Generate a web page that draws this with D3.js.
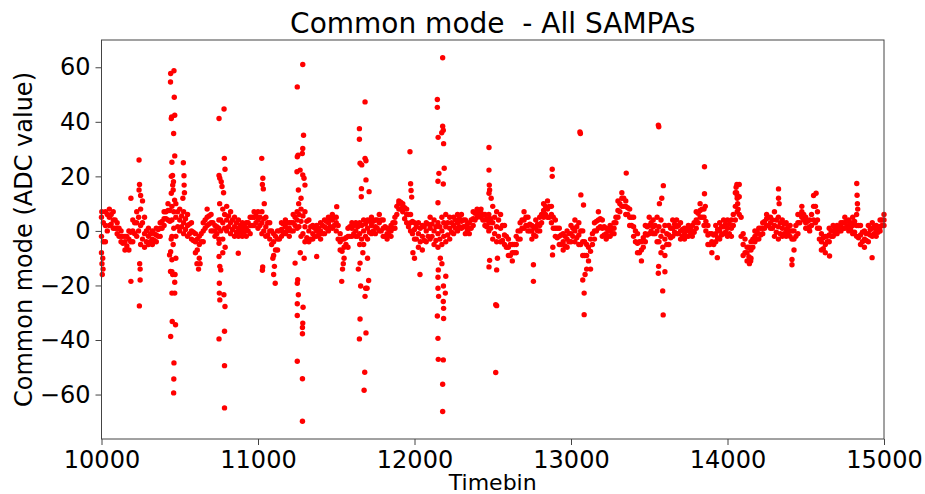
<!DOCTYPE html>
<html>
<head>
<meta charset="utf-8">
<script src="https://cdn.jsdelivr.net/npm/d3@7"></script>
<style>
  body { margin: 0; background: #fff; }
  text { font-family: "DejaVu Sans", sans-serif; }
</style>
</head>
<body>
<svg id="chart" width="925" height="494"></svg>
<script>
// common mode band, read every 25 timebins (10000 .. 15000)
var bandStart = 10000, bandStep = 25;
var cmMid = [-2,2,5,4,1,-2,-4,-3,0,3,2,-1,-2,-3,-1.5,1,4.5,7.5,4,5,4,3,2,0,-4,-5,0,5,3,0,1,3,4,3,1.5,1,0.5,1,2,5,4,
  3,1.5,0,-4,-3,0.5,1.5,1,3,4,3.5,1.5,0,-1,0,0,1.5,3,4,3,-4,-6,-2,1,0,-1,0,1,2,1.5,3,1,-1,0,3,10,9,6,3,0.5,
  -1,-2,0,1,0,-1,0,1.5,1,2,3,3.5,1.5,1,4.5,7,6.5,4,3,3,1.5,1,-1.5,-6,-8,-5,0,4,2,0,1,2,7.5,8,6,1,-2,-4,-3,-1,
  0,-1.5,-4,-9,-7.5,0,4,1,-1,0,1,7.5,12,9,5,1.5,-4.5,-7,-1,2,1.5,0,-2,-3,-1.5,1,1.5,0,-1,0,0,4,7.5,5,-1.5,-4,-1,0,1.5,1,
  1,9,12.5,-5,-8,-7,-2,-1,1,4.5,3,2,1.5,1,0.5,0,-3,3,7,3,1.5,9,4,-4,-5,-1.5,0,0.5,1.5,3,2,2,2,-1.5,-3,-1,1,0,1.5,4];
var cmHigh = [5,7,8,7,3,0,-2,0,4,7,8,5,1,0,1,3,7,10,9,10,8,7,6,3,-1,-2,3,8,6,2,4,8,9,7,5,4,3,3,5,7,7,
  7,5,3,-1,0,3,4,3,6,7,8,7,4,2,2,3,4,5,6,5,-1,-3,1,3,3,3,4,4,5,4,6,4,1,2,5,11,10,8,6,3,
  3,2,3,5,4,3,5,6,5,5,6,6,4,3,7,8,8,6,6,9,7,6,2,-3,-5,-2,3,7,5,2,4,5,10,11,9,4,1,-1,0,2,
  4,3,0,-5,-3,3,7,4,1,2,3,11,14,11,8,5,-1,-4,2,5,4,5,4,2,2,4,4,3,1,2,2,7,10,8,2,-1,2,3,4,4,
  4,14,17,-1,-6,-4,0,1,3,6,5,7,5,4,3,2,0,6,9,5,4,13,7,-1,-2,1,2,2,3,5,4,5,6,2,0,2,3,2,4,6];
var cmLow = [-8,-4,2,1,-1,-4,-7,-7,-4,-2,-5,-6,-5,-5,-4,-2,2,4,-2,-2,0,-1,-2,-3,-8,-10,-4,2,0,-2,-3,-3,0,-1,-2,-2,-2,-2,-1,2,1,
  -1,-2,-3,-9,-7,-2,-1,-2,0,1,-2,-4,-4,-3,-2,-3,-1,0,1,0,-7,-10,-6,-2,-2,-5,-5,-3,-1,-1,0,-2,-3,-2,1,8,7,3,0,-3,
  -6,-7,-4,-3,-5,-6,-5,-4,-3,-1,0,1,-1,-1,2,5,5,2,0,-3,-4,-4,-5,-9,-11,-8,-3,1,0,-3,-2,0,5,5,3,-2,-5,-7,-6,-4,
  -4,-5,-9,-14,-14,-3,1,-2,-3,-2,-1,5,9,6,2,-2,-8,-11,-4,-1,-1,-4,-8,-9,-5,-2,-1,-3,-3,-2,-2,1,5,2,-5,-8,-4,-3,-1,-2,
  -2,4,6,-9,-11,-10,-4,-3,-1,2,1,-2,-3,-2,-2,-2,-7,-1,5,1,0,4,1,-7,-8,-4,-2,-1,0,1,0,-1,-2,-5,-6,-4,-2,-2,0,2];

// band read half a step later (timebin + 12): upper and lower part
var halfOffset = 12;
var cmUpper = [3,6,6,4,1,-2,-2,-0.5,3,5,3,0,-1,-1,0.5,3.5,7,7.5,7,7,5.5,4.5,2.5,-0.5,-3,-1,4,5.5,3,1.5,4,6,5.5,4,3,2,2,3,5,5.5,5,
  4.5,3,0,-2,0,2.5,3,3,5,6,5.5,3.5,1.5,1,1,2,3.5,4.5,5,2,-3,-2.5,1.5,2,1.5,2,2.5,3.5,3.5,4,4,1.5,0.5,3,9,10.5,8.5,6,3.5,1.5,
  1,1.5,2.5,2.5,1.5,1.5,3,3,3,4,4.5,4,2.5,4,6.5,7.5,6,4.5,4.5,5,4,2,-2,-5,-5,0,4,5,2.5,1.5,2.5,6,9,9,5,1,-1.5,-2,-1,1,
  1.5,0,-4,-6,-1,3.5,4.5,1.5,0.5,1,5,10,12,8.5,5,0,-4,-2.5,1.5,3,2,1.5,0,-1,1,2.5,2,0.5,0.5,1,3,6.5,8,3.5,-1,-1.5,0.5,1.5,2.5,2.5,
  6,13,5,-3,-6,-3,-0.5,1,3.5,5,4,4,3,2.5,1.5,0,2,6,6,3.5,6,9,1,-2.5,-2,0,1,1.5,3,3.5,3,3.5,2,-0.5,-1,0.5,1.5,1.5,4];
var cmLower = [-4,0,2.5,1,-2,-4.5,-5.5,-4,-1,0,-3,-4,-4,-3.5,-2,1,4.5,3.5,1,1.5,1.5,0.5,-1,-3.5,-7,-4,1,2.5,0,-1,0,1,1.5,0.5,-0.5,-0.5,-0.5,0,2,3,2,
  0,-1.5,-5,-7,-3,-0.5,0,0,2,1.5,-1,-2.5,-3,-2,-1.5,-1,1,1.5,2,-3,-7.5,-5,-2,-1,-2,-3,-2,-0.5,0,1,0,-2,-1.5,1,6,8,4.5,1.5,-1,-3,
  -4,-3.5,-2,-2,-3.5,-3,-2,-1.5,-0.5,1,1.5,1.5,0,1,4,5.5,4,1.5,1,-1,-2,-3.5,-6,-9,-8,-3,1,2,0,-1.5,0,3,6,5,1,-2.5,-5,-5.5,-4,-2,
  -2.5,-5,-9,-11,-5,0,1.5,-1.5,-2,-1,3,7,9,6,2,-4,-8,-6,-1.5,0,-1,-4,-6,-5,-2.5,-0.5,-1,-2,-2,-1.5,-0.5,3,5,0,-5,-5,-2.5,-1.5,-0.5,-1,
  2,7,-2,-8,-9.5,-6,-3,-1.5,1,2,1,-0.5,-1,-1,-1,-3,-2,3,4,1,2,3,-3,-6.5,-4,-2,-1,0,1,1.5,0.5,-0.5,-2.5,-4,-3.5,-1.5,-1,-0.5,2];

// isolated points away from the band [timebin, value]
var spikes = [
  [10003,-12],[10005,-16],[10008,-10],[10002,7],[10010,-14],
  [10188,12],[10188,-18.5],
  [10240,26],[10243,17],[10240,15],[10247,-18],[10247,-14],[10244,-12],[10242,-27.5],[10262,11],[10250,13],
  [10442,57.7],[10441,54.6],[10463,58.7],[10465,49],[10468,42.4],[10446,41.2],[10448,41.8],[10461,35.7],[10468,27.5],
  [10450,25.2],[10454,20.3],[10446,20],[10455,16.8],[10446,13.8],[10467,11.3],[10460,18],[10458,15],[10442,-7.6],
  [10450,-10.6],[10441,-14.9],[10450,-15],[10455,-16],[10470,-16],[10468,-18.8],[10450,-22.8],[10468,-22.8],
  [10452,-33.2],[10473,-34.4],[10442,-38.7],[10463,-48.4],[10462,-54.3],[10461,-59.4],[10435,-8.8],[10475,-10],
  [10458,-5],[10445,-3],
  [10523,25],[10527,20.2],[10528,16.8],[10520,12],[10530,14],
  [10610,-12],[10620,-14],[10630,-12],
  [10751,41.2],[10783,44.7],[10785,26.6],[10789,22.6],[10751,20.3],[10756,19.3],[10765,18],[10770,16.3],[10755,10],
  [10780,14],[10751,-4.5],[10751,-9.4],[10756,-13],[10762,-14.3],[10753,-19.2],[10753,-22.8],[10782,-23.4],
  [10756,-25.3],[10789,-27.7],[10786,-36.8],[10751,-39.6],[10786,-49.4],[10786,-64.9],[10874,-8.2],[10775,-8],[10790,-6],
  [11024,26.6],[11031,19.3],[11034,15.4],[11028,17],[11030,-13.2],[11028,-14.4],[11040,10],
  [11110,-19.2],[11100,-16],[11105,-13],[11095,-10],
  [11286,61],[11251,52.8],[11291,35.1],[11286,30.2],[11283,28.4],[11256,27.8],[11251,27.2],[11269,22.3],[11249,21.7],
  [11286,20.5],[11294,19.3],[11300,16.8],[11258,15],[11237,-11.8],[11254,-17.9],[11251,-19.2],[11258,-23.4],
  [11251,-26.7],[11288,-28],[11251,-31],[11286,-33.8],[11284,-35.4],[11284,-37.7],[11251,-47.8],[11284,-54.2],
  [11284,-69.8],[11375,-9.4],[11270,-8],[11295,-10],[11260,10],[11275,12],
  [11535,-18.5],[11503,8.9],[11540,-14],[11545,-12],
  [11684,47.3],[11648,37.5],[11648,33.6],[11652,24.8],[11663,24.2],[11684,26.6],[11690,25.7],[11690,18.7],[11710,14.4],
  [11661,15.5],[11660,12.5],[11652,-11.8],[11641,-14],[11656,-20.2],[11684,-24],[11688,-21],[11707,-18.2],[11697,-21],
  [11652,-32.3],[11690,-37.4],[11648,-39.6],[11682,-51.8],[11678,-58.4],[11670,-8],[11700,-10],
  [11971,29],[11975,17.3],[11978,14.8],[11982,12.4],[12035,-16],[11990,-8],[12000,-10],
  [12180,63.5],[12146,48.2],[12146,45.3],[12180,38.4],[12184,36.9],[12174,36],[12186,32],[12151,34.3],[12156,21.1],
  [12190,23],[12184,17.2],[12150,18.2],[12150,10.3],[12152,-14.3],[12150,-17],[12150,-21],[12154,-24],[12185,-20.2],
  [12197,-22.8],[12184,-25.9],[12186,-28.4],[12186,-32.1],[12146,-31.2],[12150,-39.4],[12152,-47.1],[12184,-47.3],
  [12180,-56.2],[12180,-66.2],[12200,-16.6],[12165,-10],[12175,-12],
  [12476,30.6],[12476,22.3],[12478,16.8],[12480,15],[12476,13.8],[12476,-13.2],[12480,-10.8],[12525,-14.3],
  [12519,-27.1],[12525,-27.4],[12519,-51.9],[12490,12],[12530,-10],
  [12880,22.6],[12880,20],[12760,-12.4],[12760,-18.5],[12882,-8.8],[12884,-6],
  [13057,36.3],[13060,35.7],[13063,13.2],[13080,9.5],[13084,-22.8],[13084,-30.7],[13075,-18],[13090,-16],
  [13353,21.2],
  [13558,38.8],[13561,38.2],[13590,16.6],[13586,-22],[13589,-30.8],[13558,-15.5],[13600,-15],[13560,-13],[13565,10],[13580,12],
  [13853,23.5],[13853,13.6],[13858,9],
  [13935,-9.8],
  [14055,16],[14058,14],[14062,12],[14065,10],[14068,8],[14060,17],
  [14148,-11],[14140,-12],
  [14326,15.4],[14326,12],[14330,10],
  [14412,-12.4],[14412,-10.5],
  [14566,13.8],
  [14652,-9.2],
  [14826,17.4],[14828,13.1],[14830,10],[14832,8],
  [14924,-9.8]
];

var xTicks = [10000, 11000, 12000, 13000, 14000, 15000];
var yTicks = [-60, -40, -20, 0, 20, 40, 60];

var margin = { top: 40, right: 41, bottom: 55, left: 101.5 };
var width = 925 - margin.left - margin.right,
    height = 494 - margin.top - margin.bottom;

var svg = d3.select("#chart")
  .append("g")
  .attr("transform", "translate(" + margin.left + "," + margin.top + ")");

var x = d3.scaleLinear().domain([10000, 15000]).range([0, width]);
var y = d3.scaleLinear().domain([-76.3, 70]).range([height, 0]);

// build the points
var points = [];
cmMid.forEach(function (d, i) {
  var t = bandStart + i * bandStep;
  points.push([t, cmHigh[i]]);
  points.push([t, d]);
  points.push([t, cmLow[i]]);
  if (i < cmUpper.length) {
    points.push([t + halfOffset, cmUpper[i]]);
    points.push([t + halfOffset, cmLower[i]]);
  }
});
spikes.forEach(function (d) { points.push(d); });

svg.append("g")
  .selectAll("circle")
  .data(points)
  .enter().append("circle")
  .attr("cx", function (d) { return x(d[0]); })
  .attr("cy", function (d) { return y(d[1]); })
  .attr("r", 2.7)
  .attr("fill", "#ff0000");

// axes
var xAxis = svg.append("g")
  .attr("transform", "translate(0," + height + ")")
  .call(d3.axisBottom(x).tickValues(xTicks).tickFormat(d3.format("d")).tickSize(6).tickPadding(6));
var yAxis = svg.append("g")
  .call(d3.axisLeft(y).tickValues(yTicks).tickSize(6).tickPadding(5));

[xAxis, yAxis].forEach(function (a) {
  a.select(".domain").remove();
  a.selectAll("line").attr("stroke", "#444");
  a.selectAll("text").attr("font-size", 24).attr("fill", "#000")
    .style("font-family", "'DejaVu Sans', sans-serif");
});

svg.append("rect")
  .attr("width", width).attr("height", height)
  .attr("fill", "none").attr("stroke", "#444").attr("stroke-width", 1);

svg.append("text")
  .attr("x", width / 2).attr("y", -7)
  .attr("text-anchor", "middle").attr("font-size", 28)
  .style("white-space", "pre")
  .text("Common mode  - All SAMPAs");

svg.append("text")
  .attr("x", width / 2).attr("y", height + 51)
  .attr("text-anchor", "middle").attr("font-size", 22)
  .text("Timebin");

svg.append("text")
  .attr("transform", "translate(" + (-70) + "," + (height / 2) + ") rotate(-90)")
  .attr("text-anchor", "middle").attr("font-size", 24)
  .text("Common mode (ADC value)");
</script>
</body>
</html>
